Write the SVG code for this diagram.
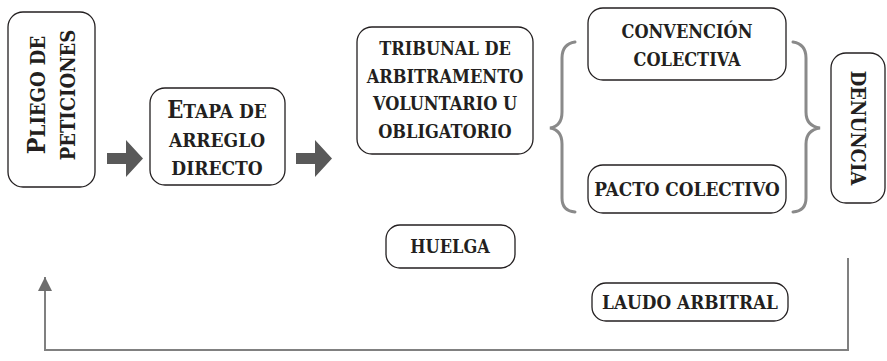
<svg xmlns="http://www.w3.org/2000/svg" width="887" height="361" viewBox="0 0 887 361">
<defs>
<style>
.box{fill:#fff;stroke:#231f20;stroke-width:1.3}
.t{font-family:"DejaVu Serif Condensed","DejaVu Serif","Liberation Serif",serif;font-stretch:condensed;font-weight:bold;font-size:18px;fill:#231f20;text-anchor:middle}
.v{font-size:20px}
.big{font-size:25px}
.bigE{font-size:23.5px}
.e{font-size:19px}
.w{font-size:18.8px}
.brace{fill:none;stroke:#8a8a8a;stroke-width:3;stroke-linecap:round}
.line{fill:none;stroke:#808080;stroke-width:2}
.blk{fill:#595959}
</style>
<marker id="ah" viewBox="0 0 10 10" refX="10" refY="5" markerWidth="14" markerHeight="14" markerUnits="userSpaceOnUse" orient="auto">
<path d="M0,0 L10,5 L0,10 Z" fill="#6d6d6d"/>
</marker>
</defs>
<g id="pliego">
<rect class="box" x="8" y="12" width="87" height="175" rx="15"/>
<text class="t v" transform="translate(45,95) rotate(-90)"><tspan class="big">P</tspan>LIEGO DE</text>
<text class="t v" transform="translate(75,95) rotate(-90)">PETICIONES</text>
</g>
<g id="etapa">
<rect class="box" x="150" y="88" width="135" height="97" rx="15"/>
<text class="t e" x="217" y="118"><tspan class="bigE">E</tspan>TAPA DE</text>
<text class="t e" x="217" y="147">ARREGLO</text>
<text class="t e" x="217" y="175">DIRECTO</text>
</g>
<g id="tribunal">
<rect class="box" x="357" y="27" width="176" height="127" rx="15"/>
<text class="t" x="445" y="55">TRIBUNAL DE</text>
<text class="t" x="445" y="83">ARBITRAMENTO</text>
<text class="t" x="445" y="110">VOLUNTARIO U</text>
<text class="t" x="445" y="138">OBLIGATORIO</text>
</g>
<g id="convencion">
<rect class="box" x="588" y="8" width="198" height="72" rx="15"/>
<text class="t" x="687" y="38">CONVENCIÓN</text>
<text class="t" x="687" y="66">COLECTIVA</text>
</g>
<g id="pacto">
<rect class="box" x="588" y="165" width="198" height="48" rx="15"/>
<text class="t w" x="687" y="196">PACTO COLECTIVO</text>
</g>
<g id="denuncia">
<rect class="box" x="831" y="53" width="54" height="150" rx="15"/>
<text class="t v" transform="translate(851,128) rotate(90)">DENUNCIA</text>
</g>
<g id="huelga">
<rect class="box" x="386" y="225" width="129" height="43" rx="14"/>
<text class="t" x="450" y="253">HUELGA</text>
</g>
<g id="laudo">
<rect class="box" x="592" y="283" width="196" height="38" rx="14"/>
<text class="t w" x="690" y="309">LAUDO ARBITRAL</text>
</g>
<g id="connectors">
<path class="blk" d="M107,153 H126 V140 L143,158.5 L126,177 V164 H107 Z"/>
<path class="blk" d="M296,153 H315 V140 L332,158.5 L315,177 V164 H296 Z"/>
<path class="brace" d="M575,42 Q562,44 562,58 V112 Q562,126 550,128 Q562,130 562,144 V198 Q562,211 575,212"/>
<path class="brace" d="M793,42 Q806,44 806,58 V112 Q806,126 820,128 Q806,130 806,144 V198 Q806,211 793,212"/>
<path class="line" d="M848,258 V350 H45 V277" marker-end="url(#ah)"/>
</g>
</svg>
